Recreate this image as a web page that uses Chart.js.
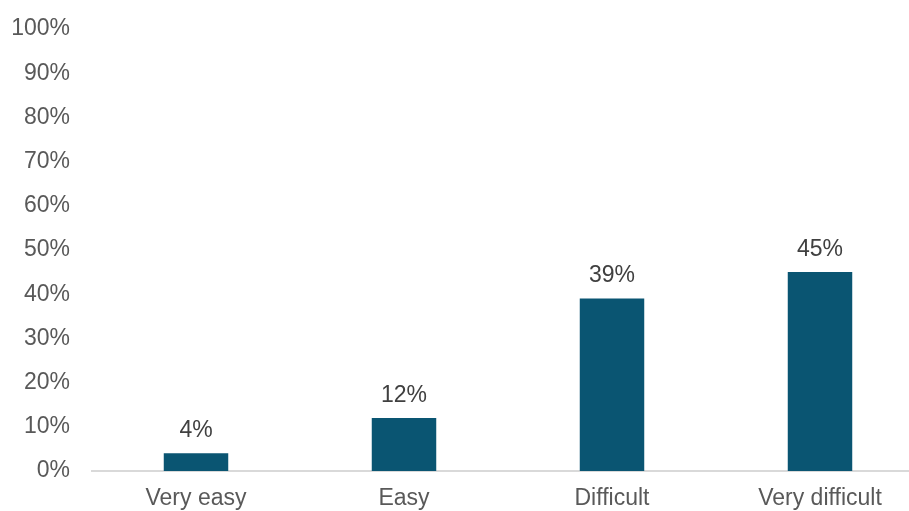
<!DOCTYPE html>
<html>
<head>
<meta charset="utf-8">
<script src="https://cdn.jsdelivr.net/npm/chart.js@4.4.0/dist/chart.umd.min.js"></script>
<style>
  html, body { margin: 0; padding: 0; background: #fff; overflow: hidden; }
  #wrap { width: 924px; height: 511px; position: relative; }
</style>
</head>
<body>
<div id="wrap"><canvas id="bars"></canvas></div>
<script>
var categories = ['Very easy', 'Easy', 'Difficult', 'Very difficult'];
var shares = [4, 12, 39, 45];
var yTicks = [0, 10, 20, 30, 40, 50, 60, 70, 80, 90, 100];

// writes the percentage above each bar
var valueLabels = {
  id: 'valueLabels',
  afterDatasetsDraw: function (chart) {
    var c = chart.ctx;
    var meta = chart.getDatasetMeta(0);
    c.save();
    c.font = '23px "Liberation Sans", Arial, sans-serif';
    c.fillStyle = '#404040';
    c.textAlign = 'center';
    c.textBaseline = 'bottom';
    meta.data.forEach(function (bar, i) {
      c.fillText(shares[i] + '%', bar.x, bar.y - 11);
    });
    c.restore();
  }
};

var ctx = document.getElementById('bars').getContext('2d');
var myChart = new Chart(ctx, {
  type: 'bar',
  data: {
    labels: categories,
    datasets: [{
      data: shares,
      backgroundColor: '#0a5572',
      borderWidth: 0,
      categoryPercentage: 1,
      barPercentage: 0.31
    }]
  },
  options: {
    responsive: true,
    maintainAspectRatio: false,
    animation: false,
    layout: { padding: { top: 29, left: 0, right: 0, bottom: 0 } },
    plugins: {
      legend: { display: false },
      tooltip: { enabled: false }
    },
    scales: {
      x: {
        grid: { display: false, drawTicks: false },
        border: { display: true, color: '#d9d9d9', width: 2 },
        ticks: {
          color: '#595959',
          font: { family: '"Liberation Sans", Arial, sans-serif', size: 23 },
          padding: 14,
          maxRotation: 0
        },
        afterFit: function (scale) { scale.height = 40; }
      },
      y: {
        min: 0,
        max: 100,
        afterBuildTicks: function (scale) {
          scale.ticks = yTicks.map(function (v) { return { value: v }; });
        },
        grid: { display: false, drawTicks: false },
        border: { display: false },
        ticks: {
          color: '#595959',
          font: { family: '"Liberation Sans", Arial, sans-serif', size: 23 },
          padding: 22,
          callback: function (v) { return v + '%'; }
        },
        afterFit: function (scale) {
          scale.width = 92;
          scale.paddingTop = 0;
          scale.paddingBottom = 0;
        }
      }
    }
  },
  plugins: [valueLabels]
});
</script>
</body>
</html>
